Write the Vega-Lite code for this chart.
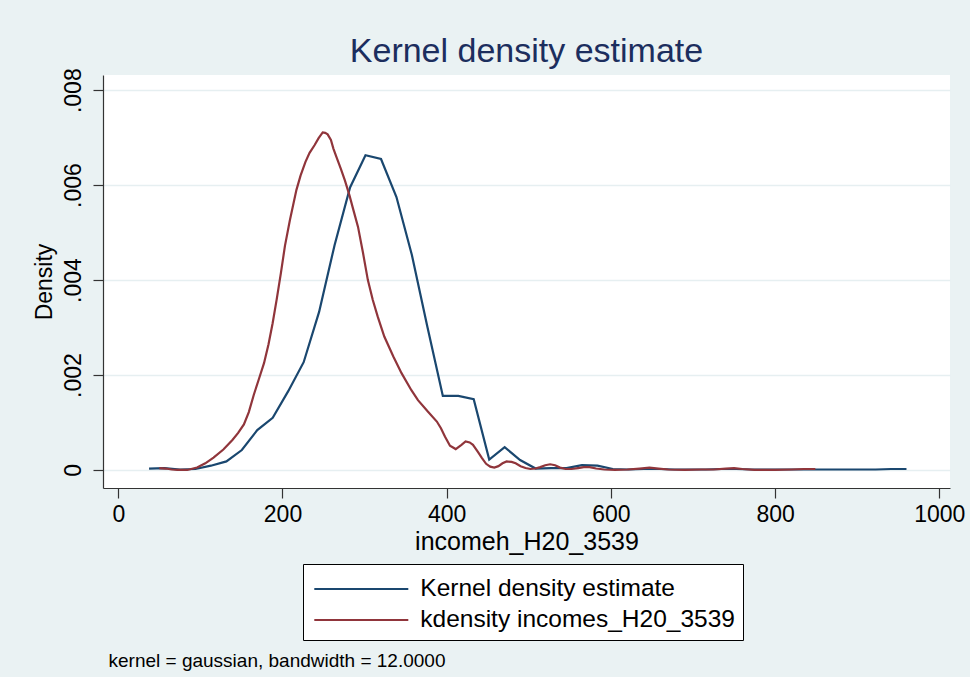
{
  "$schema": "https://vega.github.io/schema/vega-lite/v6.json",
  "width": 847,
  "height": 413,
  "autosize": {"type": "none"},
  "padding": {"left": 103, "top": 75, "right": 20, "bottom": 189},
  "background": "#EAF2F3",
  "title": {
    "text": "Kernel density estimate",
    "fontSize": 34,
    "font": "Liberation Sans",
    "fontWeight": "normal",
    "color": "#1c2e5e",
    "anchor": "middle",
    "offset": -1
  },
  "config": {
    "font": "Liberation Sans",
    "view": {"stroke": null, "fill": "white"}
  },
  "resolve": {"axis": {"x": "independent"}},
  "layer": [
    {
      "data": {
        "values": [
          {"income": 37.5, "density": 0.00003, "series": "Kernel density estimate"},
          {"income": 56.3, "density": 0.00004, "series": "Kernel density estimate"},
          {"income": 75.2, "density": 0.00001, "series": "Kernel density estimate"},
          {"income": 94.0, "density": 0.00002, "series": "Kernel density estimate"},
          {"income": 112.8, "density": 0.00009, "series": "Kernel density estimate"},
          {"income": 131.7, "density": 0.00018, "series": "Kernel density estimate"},
          {"income": 150.5, "density": 0.00042, "series": "Kernel density estimate"},
          {"income": 169.3, "density": 0.00084, "series": "Kernel density estimate"},
          {"income": 188.1, "density": 0.0011, "series": "Kernel density estimate"},
          {"income": 207.0, "density": 0.00166, "series": "Kernel density estimate"},
          {"income": 225.8, "density": 0.00227, "series": "Kernel density estimate"},
          {"income": 244.6, "density": 0.00333, "series": "Kernel density estimate"},
          {"income": 263.5, "density": 0.00474, "series": "Kernel density estimate"},
          {"income": 282.3, "density": 0.00595, "series": "Kernel density estimate"},
          {"income": 301.1, "density": 0.00663, "series": "Kernel density estimate"},
          {"income": 320.0, "density": 0.00655, "series": "Kernel density estimate"},
          {"income": 338.8, "density": 0.00575, "series": "Kernel density estimate"},
          {"income": 357.6, "density": 0.00453, "series": "Kernel density estimate"},
          {"income": 376.4, "density": 0.00302, "series": "Kernel density estimate"},
          {"income": 395.3, "density": 0.00156, "series": "Kernel density estimate"},
          {"income": 414.1, "density": 0.00156, "series": "Kernel density estimate"},
          {"income": 432.9, "density": 0.00149, "series": "Kernel density estimate"},
          {"income": 451.8, "density": 0.00022, "series": "Kernel density estimate"},
          {"income": 470.6, "density": 0.00048, "series": "Kernel density estimate"},
          {"income": 489.4, "density": 0.00021, "series": "Kernel density estimate"},
          {"income": 508.3, "density": 0.00003, "series": "Kernel density estimate"},
          {"income": 527.1, "density": 0.00004, "series": "Kernel density estimate"},
          {"income": 545.9, "density": 0.00004, "series": "Kernel density estimate"},
          {"income": 564.7, "density": 0.0001, "series": "Kernel density estimate"},
          {"income": 583.6, "density": 0.00009, "series": "Kernel density estimate"},
          {"income": 602.4, "density": 0.00002, "series": "Kernel density estimate"},
          {"income": 621.2, "density": 0.00001, "series": "Kernel density estimate"},
          {"income": 640.0, "density": 0.00002, "series": "Kernel density estimate"},
          {"income": 658.9, "density": 0.00002, "series": "Kernel density estimate"},
          {"income": 677.7, "density": 0.00001, "series": "Kernel density estimate"},
          {"income": 696.5, "density": 0.00001, "series": "Kernel density estimate"},
          {"income": 715.4, "density": 0.00001, "series": "Kernel density estimate"},
          {"income": 734.2, "density": 0.00002, "series": "Kernel density estimate"},
          {"income": 753.0, "density": 0.00002, "series": "Kernel density estimate"},
          {"income": 771.8, "density": 0.00001, "series": "Kernel density estimate"},
          {"income": 790.7, "density": 0.00001, "series": "Kernel density estimate"},
          {"income": 809.5, "density": 0.00001, "series": "Kernel density estimate"},
          {"income": 828.3, "density": 0.00001, "series": "Kernel density estimate"},
          {"income": 847.2, "density": 0.00001, "series": "Kernel density estimate"},
          {"income": 866.0, "density": 0.00001, "series": "Kernel density estimate"},
          {"income": 884.8, "density": 0.00001, "series": "Kernel density estimate"},
          {"income": 903.6, "density": 0.00001, "series": "Kernel density estimate"},
          {"income": 922.5, "density": 0.00001, "series": "Kernel density estimate"},
          {"income": 941.3, "density": 0.00002, "series": "Kernel density estimate"},
          {"income": 960.0, "density": 0.00002, "series": "Kernel density estimate"},
          {"income": 50, "density": 0.00004, "series": "kdensity incomes_H20_3539"},
          {"income": 58, "density": 0.00003, "series": "kdensity incomes_H20_3539"},
          {"income": 65, "density": 0.00001, "series": "kdensity incomes_H20_3539"},
          {"income": 72, "density": 0.0, "series": "kdensity incomes_H20_3539"},
          {"income": 84, "density": 0.0, "series": "kdensity incomes_H20_3539"},
          {"income": 96, "density": 0.00005, "series": "kdensity incomes_H20_3539"},
          {"income": 106, "density": 0.00014, "series": "kdensity incomes_H20_3539"},
          {"income": 116, "density": 0.00026, "series": "kdensity incomes_H20_3539"},
          {"income": 128, "density": 0.00043, "series": "kdensity incomes_H20_3539"},
          {"income": 139, "density": 0.00063, "series": "kdensity incomes_H20_3539"},
          {"income": 146, "density": 0.00078, "series": "kdensity incomes_H20_3539"},
          {"income": 153, "density": 0.00096, "series": "kdensity incomes_H20_3539"},
          {"income": 159, "density": 0.00122, "series": "kdensity incomes_H20_3539"},
          {"income": 165, "density": 0.00158, "series": "kdensity incomes_H20_3539"},
          {"income": 171, "density": 0.0019, "series": "kdensity incomes_H20_3539"},
          {"income": 177.5, "density": 0.00225, "series": "kdensity incomes_H20_3539"},
          {"income": 183, "density": 0.00265, "series": "kdensity incomes_H20_3539"},
          {"income": 188, "density": 0.00309, "series": "kdensity incomes_H20_3539"},
          {"income": 193, "density": 0.0036, "series": "kdensity incomes_H20_3539"},
          {"income": 198, "density": 0.00414, "series": "kdensity incomes_H20_3539"},
          {"income": 203, "density": 0.00472, "series": "kdensity incomes_H20_3539"},
          {"income": 209, "density": 0.00526, "series": "kdensity incomes_H20_3539"},
          {"income": 217, "density": 0.0059, "series": "kdensity incomes_H20_3539"},
          {"income": 222, "density": 0.0062, "series": "kdensity incomes_H20_3539"},
          {"income": 228, "density": 0.00649, "series": "kdensity incomes_H20_3539"},
          {"income": 233, "density": 0.00668, "series": "kdensity incomes_H20_3539"},
          {"income": 239, "density": 0.00684, "series": "kdensity incomes_H20_3539"},
          {"income": 244, "density": 0.00699, "series": "kdensity incomes_H20_3539"},
          {"income": 249, "density": 0.00711, "series": "kdensity incomes_H20_3539"},
          {"income": 252, "density": 0.0071, "series": "kdensity incomes_H20_3539"},
          {"income": 255, "density": 0.00707, "series": "kdensity incomes_H20_3539"},
          {"income": 259, "density": 0.00695, "series": "kdensity incomes_H20_3539"},
          {"income": 262, "density": 0.00677, "series": "kdensity incomes_H20_3539"},
          {"income": 266, "density": 0.00658, "series": "kdensity incomes_H20_3539"},
          {"income": 271, "density": 0.00635, "series": "kdensity incomes_H20_3539"},
          {"income": 276, "density": 0.0061, "series": "kdensity incomes_H20_3539"},
          {"income": 281.5, "density": 0.00579, "series": "kdensity incomes_H20_3539"},
          {"income": 286, "density": 0.0055, "series": "kdensity incomes_H20_3539"},
          {"income": 292, "density": 0.00512, "series": "kdensity incomes_H20_3539"},
          {"income": 298, "density": 0.00458, "series": "kdensity incomes_H20_3539"},
          {"income": 304, "density": 0.004, "series": "kdensity incomes_H20_3539"},
          {"income": 310, "density": 0.00358, "series": "kdensity incomes_H20_3539"},
          {"income": 316, "density": 0.00323, "series": "kdensity incomes_H20_3539"},
          {"income": 324, "density": 0.00281, "series": "kdensity incomes_H20_3539"},
          {"income": 335, "density": 0.00239, "series": "kdensity incomes_H20_3539"},
          {"income": 345, "density": 0.00204, "series": "kdensity incomes_H20_3539"},
          {"income": 357, "density": 0.00168, "series": "kdensity incomes_H20_3539"},
          {"income": 365, "density": 0.00147, "series": "kdensity incomes_H20_3539"},
          {"income": 377, "density": 0.00123, "series": "kdensity incomes_H20_3539"},
          {"income": 388, "density": 0.00102, "series": "kdensity incomes_H20_3539"},
          {"income": 393, "density": 0.00088, "series": "kdensity incomes_H20_3539"},
          {"income": 398, "density": 0.0007, "series": "kdensity incomes_H20_3539"},
          {"income": 404, "density": 0.00051, "series": "kdensity incomes_H20_3539"},
          {"income": 411, "density": 0.00044, "series": "kdensity incomes_H20_3539"},
          {"income": 418, "density": 0.00053, "series": "kdensity incomes_H20_3539"},
          {"income": 423, "density": 0.0006, "series": "kdensity incomes_H20_3539"},
          {"income": 428, "density": 0.00058, "series": "kdensity incomes_H20_3539"},
          {"income": 432, "density": 0.00053, "series": "kdensity incomes_H20_3539"},
          {"income": 438, "density": 0.00038, "series": "kdensity incomes_H20_3539"},
          {"income": 443, "density": 0.00025, "series": "kdensity incomes_H20_3539"},
          {"income": 448, "density": 0.00013, "series": "kdensity incomes_H20_3539"},
          {"income": 453, "density": 0.00007, "series": "kdensity incomes_H20_3539"},
          {"income": 458, "density": 0.00005, "series": "kdensity incomes_H20_3539"},
          {"income": 463, "density": 0.00008, "series": "kdensity incomes_H20_3539"},
          {"income": 468, "density": 0.00014, "series": "kdensity incomes_H20_3539"},
          {"income": 473, "density": 0.00018, "series": "kdensity incomes_H20_3539"},
          {"income": 479, "density": 0.00017, "series": "kdensity incomes_H20_3539"},
          {"income": 484, "density": 0.00014, "series": "kdensity incomes_H20_3539"},
          {"income": 490, "density": 0.00008, "series": "kdensity incomes_H20_3539"},
          {"income": 496, "density": 0.00004, "series": "kdensity incomes_H20_3539"},
          {"income": 502, "density": 0.00002, "series": "kdensity incomes_H20_3539"},
          {"income": 508, "density": 0.00003, "series": "kdensity incomes_H20_3539"},
          {"income": 514, "density": 0.00006, "series": "kdensity incomes_H20_3539"},
          {"income": 520, "density": 0.0001, "series": "kdensity incomes_H20_3539"},
          {"income": 526, "density": 0.00012, "series": "kdensity incomes_H20_3539"},
          {"income": 532, "density": 0.0001, "series": "kdensity incomes_H20_3539"},
          {"income": 538, "density": 0.00005, "series": "kdensity incomes_H20_3539"},
          {"income": 545, "density": 0.00002, "series": "kdensity incomes_H20_3539"},
          {"income": 552, "density": 0.00002, "series": "kdensity incomes_H20_3539"},
          {"income": 560, "density": 0.00004, "series": "kdensity incomes_H20_3539"},
          {"income": 567, "density": 0.00006, "series": "kdensity incomes_H20_3539"},
          {"income": 574, "density": 0.00006, "series": "kdensity incomes_H20_3539"},
          {"income": 582, "density": 0.00003, "series": "kdensity incomes_H20_3539"},
          {"income": 592, "density": 0.00001, "series": "kdensity incomes_H20_3539"},
          {"income": 605, "density": 0.0, "series": "kdensity incomes_H20_3539"},
          {"income": 620, "density": 0.00001, "series": "kdensity incomes_H20_3539"},
          {"income": 635, "density": 0.00003, "series": "kdensity incomes_H20_3539"},
          {"income": 647, "density": 0.00005, "series": "kdensity incomes_H20_3539"},
          {"income": 658, "density": 0.00003, "series": "kdensity incomes_H20_3539"},
          {"income": 670, "density": 0.00001, "series": "kdensity incomes_H20_3539"},
          {"income": 690, "density": 0.0, "series": "kdensity incomes_H20_3539"},
          {"income": 710, "density": 0.00001, "series": "kdensity incomes_H20_3539"},
          {"income": 725, "density": 0.00001, "series": "kdensity incomes_H20_3539"},
          {"income": 740, "density": 0.00003, "series": "kdensity incomes_H20_3539"},
          {"income": 750, "density": 0.00004, "series": "kdensity incomes_H20_3539"},
          {"income": 760, "density": 0.00002, "series": "kdensity incomes_H20_3539"},
          {"income": 775, "density": 0.0, "series": "kdensity incomes_H20_3539"},
          {"income": 800, "density": 0.0, "series": "kdensity incomes_H20_3539"},
          {"income": 820, "density": 0.00001, "series": "kdensity incomes_H20_3539"},
          {"income": 835, "density": 0.00002, "series": "kdensity incomes_H20_3539"},
          {"income": 849, "density": 0.00002, "series": "kdensity incomes_H20_3539"}
        ]
      },
      "mark": {"type": "line", "strokeWidth": 2.2, "clip": true},
      "encoding": {
        "x": {
          "field": "income",
          "type": "quantitative",
          "scale": {"domain": [-18.6, 1013], "nice": false, "zero": false},
          "axis": {
            "values": [0, 200, 400, 600, 800, 1000],
            "format": "d",
            "title": "incomeh_H20_3539",
            "titleFontSize": 25,
            "titleFontWeight": "normal",
            "titleColor": "#000000",
            "titlePadding": 3,
            "labelFontSize": 23,
            "labelColor": "#000000",
            "labelPadding": 5,
            "labelFlush": false,
            "tickSize": 10,
            "tickColor": "#333333",
            "tickWidth": 1.2,
            "domainColor": "#333333",
            "domainWidth": 1.2,
            "grid": false
          }
        },
        "y": {
          "field": "density",
          "type": "quantitative",
          "scale": {"domain": [-0.00038, 0.00832], "nice": false, "zero": false},
          "axis": {
            "values": [0, 0.002, 0.004, 0.006, 0.008],
            "labelExpr": "datum.value == 0 ? '0' : substring(format(datum.value, '.3f'), 1)",
            "title": "Density",
            "titleFontSize": 23,
            "titleFontWeight": "normal",
            "titleColor": "#000000",
            "titlePadding": 6,
            "labelFontSize": 23,
            "labelColor": "#000000",
            "labelAngle": -90,
            "labelAlign": "center",
            "labelBaseline": "bottom",
            "labelPadding": 8,
            "labelFlush": false,
            "tickSize": 10,
            "tickColor": "#333333",
            "tickWidth": 1.2,
            "domainColor": "#333333",
            "domainWidth": 1.2,
            "grid": true,
            "gridColor": "#E6EFF1",
            "gridWidth": 1.6
          }
        },
        "color": {
          "field": "series",
          "type": "nominal",
          "scale": {
            "domain": ["Kernel density estimate", "kdensity incomes_H20_3539"],
            "range": ["#1a476f", "#90353b"]
          },
          "legend": {
            "title": null,
            "orient": "none",
            "legendX": 200,
            "legendY": 489,
            "fillColor": "white",
            "strokeColor": "#000000",
            "padding": 8,
            "symbolType": "M-3,0H3",
            "symbolSize": 982,
            "symbolOffset": 33.3,
            "symbolStrokeWidth": 2,
            "labelFontSize": 24.5,
            "labelColor": "#000000",
            "labelOffset": 42,
            "labelLimit": 400,
            "rowPadding": 2
          }
        }
      }
    },
    {
      "data": {"values": []},
      "mark": {"type": "rule"},
      "encoding": {
        "x": {
          "field": "income",
          "type": "quantitative",
          "axis": {
            "orient": "bottom",
            "offset": 163,
            "labels": false,
            "ticks": false,
            "domain": false,
            "grid": false,
            "title": "kernel = gaussian, bandwidth = 12.0000",
            "titleAnchor": "start",
            "titleAlign": "left",
            "titleX": 5,
            "titleFontSize": 19,
            "titleFontWeight": "normal",
            "titleColor": "#000000",
            "titlePadding": 0
          }
        }
      }
    }
  ]
}
